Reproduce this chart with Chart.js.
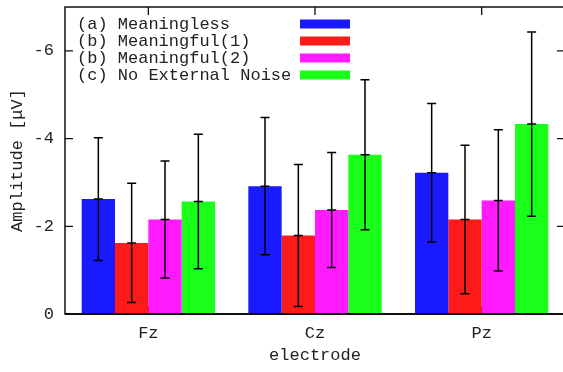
<!DOCTYPE html>
<html>
<head>
<meta charset="utf-8">
<script src="https://cdn.jsdelivr.net/npm/chart.js@4/dist/chart.umd.min.js"></script>
<style>
  html, body { margin: 0; padding: 0; background: #fff; overflow: hidden; }
  canvas { display: block; }
</style>
</head>
<body>
<canvas id="c" width="566" height="372"></canvas>
<script>
// ---- data ----
const categories = ['Fz', 'Cz', 'Pz'];
const seriesLabels = ['(a) Meaningless', '(b) Meaningful(1)', '(b) Meaningful(2)', '(c) No External Noise'];
const seriesColors = ['#1a1aff', '#ff1a1a', '#ff1aff', '#1aff1a'];
const meaningless   = [-2.62, -2.915, -3.22];
const meaningful1   = [-1.62, -1.79, -2.155];
const meaningful2   = [-2.155, -2.37, -2.59];
const noNoise       = [-2.565, -3.63, -4.33];
const sdMeaningless = [1.40, 1.565, 1.58];
const sdMeaningful1 = [1.36, 1.62, 1.695];
const sdMeaningful2 = [1.335, 1.31, 1.61];
const sdNoNoise     = [1.535, 1.71, 2.10];
const yTicks = [0, -2, -4, -6];
const yMin = -7, yMax = 0;

const seriesValues = [meaningless, meaningful1, meaningful2, noNoise];
const seriesSd = [sdMeaningless, sdMeaningful1, sdMeaningful2, sdNoNoise];

const FONT = '"Liberation Mono", "DejaVu Sans Mono", monospace';
const TXT = '#222';

const frameAndTicks = {
  id: 'frameAndTicks',
  beforeDatasetsDraw(chart) {
    const {ctx, chartArea: a, scales: {x, y}} = chart;
    ctx.save();
    ctx.strokeStyle = '#111';
    ctx.lineWidth = 1.3;
    ctx.beginPath();
    yTicks.forEach(v => {
      const py = y.getPixelForValue(v);
      ctx.moveTo(a.left, py); ctx.lineTo(a.left + 8, py);
      ctx.moveTo(a.right, py); ctx.lineTo(a.right - 8, py);
    });
    categories.forEach((c, i) => {
      const px = x.getPixelForValue(i);
      ctx.moveTo(px, a.top); ctx.lineTo(px, a.top + 8);
      ctx.moveTo(px, a.bottom); ctx.lineTo(px, a.bottom - 8);
    });
    ctx.stroke();
    ctx.restore();
  },
  afterDatasetsDraw(chart) {
    const {ctx, chartArea: a, scales: {y}} = chart;
    ctx.save();
    // error bars
    ctx.strokeStyle = '#000';
    ctx.lineWidth = 1.5;
    chart.data.datasets.forEach((ds, i) => {
      const meta = chart.getDatasetMeta(i);
      meta.data.forEach((bar, j) => {
        const m = ds.data[j], sd = seriesSd[i][j];
        const yHi = y.getPixelForValue(m - sd);
        const yLo = y.getPixelForValue(m + sd);
        const yM = y.getPixelForValue(m);
        const bx = bar.x;
        ctx.beginPath();
        ctx.moveTo(bx, yHi); ctx.lineTo(bx, yLo);
        [yHi, yLo, yM].forEach(py => { ctx.moveTo(bx - 4.5, py); ctx.lineTo(bx + 4.5, py); });
        ctx.stroke();
      });
    });
    // frame
    ctx.strokeStyle = '#111';
    ctx.lineWidth = 1.5;
    ctx.strokeRect(a.left, a.top, a.right - a.left, a.bottom - a.top);
    ctx.lineWidth = 2;
    ctx.beginPath(); ctx.moveTo(a.left, a.bottom); ctx.lineTo(a.right, a.bottom); ctx.stroke();
    // legend
    ctx.font = '17px ' + FONT;
    ctx.textBaseline = 'middle';
    ctx.textAlign = 'left';
    const rowY = [24, 41, 58, 75];
    chart.data.datasets.forEach((ds, i) => {
      ctx.fillStyle = TXT;
      ctx.fillText(ds.label, 77, rowY[i]);
      ctx.fillStyle = ds.backgroundColor;
      ctx.fillRect(300, rowY[i] - 4.5, 50, 9);
    });
    ctx.restore();
  }
};

new Chart(document.getElementById('c'), {
  type: 'bar',
  data: {
    labels: categories,
    datasets: seriesLabels.map((lab, i) => ({
      label: lab,
      data: seriesValues[i],
      backgroundColor: seriesColors[i],
      borderWidth: 0,
      categoryPercentage: 0.8,
      barPercentage: 1.0
    }))
  },
  options: {
    responsive: false,
    animation: false,
    devicePixelRatio: 1,
    layout: { padding: { left: 0, top: 7, right: 1, bottom: 0 } },
    plugins: { legend: { display: false }, tooltip: { enabled: false } },
    scales: {
      x: {
        grid: { display: false, drawTicks: false },
        border: { display: false },
        ticks: { color: TXT, font: { family: FONT, size: 17, lineHeight: 1.2 }, padding: 9 },
        title: { display: true, text: 'electrode', color: TXT,
                 font: { family: FONT, size: 17, lineHeight: 1.2 }, padding: { top: 0, bottom: 6 } },
        afterFit(s) { s.height = 58; s.paddingLeft = 0; s.paddingRight = 0; }
      },
      y: {
        reverse: true,
        min: yMin, max: yMax,
        grid: { display: false, drawTicks: false },
        border: { display: false },
        ticks: { color: TXT, font: { family: FONT, size: 17, lineHeight: 1.2 }, padding: 11 },
        afterBuildTicks(s) { s.ticks = yTicks.map(v => ({ value: v })); },
        title: { display: true, text: 'Amplitude [μV]', color: TXT,
                 font: { family: FONT, size: 17, lineHeight: 1.2 }, padding: { top: 7, bottom: 0 } },
        afterFit(s) { s.width = 65; s.paddingTop = 0; s.paddingBottom = 0; }
      }
    }
  },
  plugins: [frameAndTicks]
});
</script>
</body>
</html>
